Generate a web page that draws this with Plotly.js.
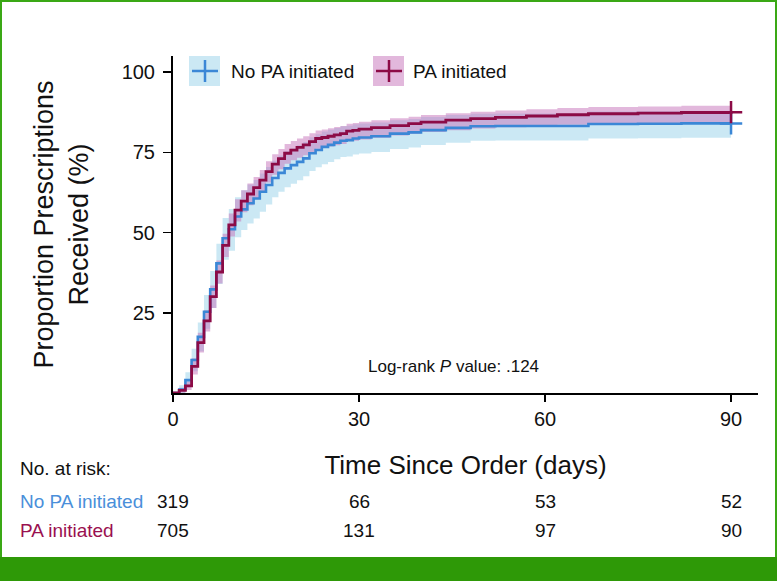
<!DOCTYPE html>
<html><head><meta charset="utf-8">
<script src="https://cdn.plot.ly/plotly-3.0.1.min.js"></script>
<style>
html,body{margin:0;padding:0;background:#fff;}
#wrap{position:relative;width:777px;height:581px;overflow:hidden;}
#chart{width:777px;height:581px;}
.g{position:absolute;background:#3aa815;pointer-events:none;}
</style></head><body>
<div id="wrap"><div id="chart"></div>
<div class="g" style="left:0;top:0;width:777px;height:2px"></div>
<div class="g" style="left:0;top:0;width:2px;height:581px"></div>
<div class="g" style="right:0;top:0;width:2px;height:581px"></div>
<div class="g" style="left:0;top:557px;width:777px;height:24px;background:#2e9907"></div>
</div>
<script>
// ---- data ----
var days = [0,1,2,3,4,5,6,7,8,9,10,11,12,13,14,15,16,17,18,19,20,21,22,23,24,25,26,27,28,29,30,32,35,38,40,44,48,52,57,62,67,75,82,90];

var paEst   = [0,0.8,2.2,8.3,15.7,22.5,30,37.7,46,52.4,57,59.8,62,64,66.3,69,71.3,73,74.7,75.7,76.5,77.3,78.3,79.3,79.6,80,80.4,80.8,81.6,81.8,82.2,82.7,83.3,83.9,84.4,85,85.5,85.9,86.3,86.7,87,87.2,87.4,87.5];
var paLow   = [0,0.1,0.9,5.8,12.6,19.2,26.5,34.1,42.4,48.8,53.4,56.3,58.5,60.6,62.9,65.6,68,69.7,71.4,72.5,73.3,74.1,75.1,76.1,76.4,76.8,77.2,77.6,78.4,78.6,79,79.5,80.2,80.8,81.3,81.9,82.4,82.8,83.2,83.6,83.9,84.1,84.3,84.4];
var paHigh  = [0,1.6,3.6,10.8,18.8,25.8,33.5,41.3,49.6,55.9,60.4,63.2,65.3,67.3,69.5,72.2,74.4,76,77.6,78.5,79.3,80,80.9,81.8,82.1,82.5,82.9,83.2,83.9,84.1,84.5,85,85.6,86.1,86.6,87.2,87.6,88,88.4,88.8,89.1,89.3,89.5,89.6];

var noEst   = [0,1.1,4,10.3,17.5,25.3,32.3,40.4,48.2,51,55,57.2,59.1,60.6,62.7,64.8,67,68.6,70,71,72,73.1,74.7,75.7,76.7,77.3,78,78.6,78.8,79.3,79.6,80,80.8,81.2,81.9,82.6,83.1,83.2,83.2,83.2,83.8,83.9,84,84];
var noLow   = [0,0,1.8,6.8,13,20,26.5,34,41.5,44.3,48.5,50.8,52.8,54.4,56.5,58.7,61,62.7,64.1,65.2,66.3,67.5,69.2,70.3,71.3,72,72.8,73.5,73.7,74.3,74.6,75.1,76,76.5,77.3,78,78.6,78.7,78.7,78.7,79.3,79.4,79.5,79.5];
var noHigh  = [0,2.4,6.5,13.8,22,30.5,38,46.5,54.5,57.3,61,63.2,65,66.4,68.4,70.4,72.4,74,75.3,76.2,77.2,78.2,79.7,80.6,81.5,82,82.6,83.1,83.3,83.7,84,84.3,85,85.4,86,86.6,87,87.1,87.1,87.1,87.7,87.8,87.9,87.9];

var groupNames = ['No PA initiated','PA initiated'];
var riskTimes  = [0,30,60,90];
var riskNoPA   = [319,66,53,52];
var riskPA     = [705,131,97,90];
var xTicks = [0,30,60,90];
var yTicks = [25,50,75,100];

// ---- styles ----
var BLUE = '#3b87d6', RED = '#8c0b46';
var BLUE_FILL = 'rgba(140,205,230,0.45)', RED_FILL = 'rgba(197,113,185,0.5)';
var FONT = 'Liberation Sans, Arial, sans-serif';

var last = days.length - 1;
var traces = [
  {x: days, y: noLow, mode:'lines', line:{width:0, shape:'hv'}, showlegend:false, hoverinfo:'skip'},
  {x: days, y: noHigh, mode:'lines', line:{width:0, shape:'hv'}, fill:'tonexty', fillcolor:BLUE_FILL, showlegend:false, hoverinfo:'skip'},
  {x: days, y: paLow, mode:'lines', line:{width:0, shape:'hv'}, showlegend:false, hoverinfo:'skip'},
  {x: days, y: paHigh, mode:'lines', line:{width:0, shape:'hv'}, fill:'tonexty', fillcolor:RED_FILL, showlegend:false, hoverinfo:'skip'},
  {x: days, y: noEst, name: groupNames[0], mode:'lines', line:{color:BLUE, width:2.6, shape:'hv'}, showlegend:false},
  {x: days, y: paEst, name: groupNames[1], mode:'lines', line:{color:RED, width:2.8, shape:'hv'}, showlegend:false},
  {x: [days[last]], y: [noEst[last]], mode:'markers', marker:{symbol:'cross-thin-open', size:16, color:BLUE, line:{color:BLUE, width:2.5}}, showlegend:false},
  {x: [days[last]], y: [paEst[last]], mode:'markers', marker:{symbol:'cross-thin-open', size:16, color:RED, line:{color:RED, width:2.5}}, showlegend:false}
];

// plot area in px: left 173, width 585, top 56, height 337
function px(xp){ return (xp-173)/585; }
function py(yp){ return (393-yp)/337; }

var shapes = [
  {type:'rect', xref:'paper', yref:'paper', x0:px(189), x1:px(220), y0:py(86), y1:py(56), fillcolor:'rgba(140,205,230,0.45)', line:{width:0}},
  {type:'line', xref:'paper', yref:'paper', x0:px(192), x1:px(218), y0:py(71), y1:py(71), line:{color:BLUE, width:2.5}},
  {type:'line', xref:'paper', yref:'paper', x0:px(205), x1:px(205), y0:py(60), y1:py(82), line:{color:BLUE, width:2.5}},
  {type:'rect', xref:'paper', yref:'paper', x0:px(373), x1:px(404), y0:py(86), y1:py(56), fillcolor:RED_FILL, line:{width:0}},
  {type:'line', xref:'paper', yref:'paper', x0:px(376), x1:px(402), y0:py(71), y1:py(71), line:{color:RED, width:2.5}},
  {type:'line', xref:'paper', yref:'paper', x0:px(389), x1:px(389), y0:py(60), y1:py(82), line:{color:RED, width:2.5}}
];

var annotations = [
  {xref:'paper', yref:'paper', x:px(229), y:py(71), xanchor:'left', yanchor:'middle', text:groupNames[0], showarrow:false, font:{family:FONT, size:19, color:'#111'}},
  {xref:'paper', yref:'paper', x:px(411), y:py(71), xanchor:'left', yanchor:'middle', text:groupNames[1], showarrow:false, font:{family:FONT, size:19, color:'#111'}},
  {xref:'paper', yref:'paper', x:px(453), y:py(366), xanchor:'center', yanchor:'middle', text:'Log-rank <i>P</i> value: .124', showarrow:false, font:{family:FONT, size:17, color:'#111'}},
  {xref:'paper', yref:'paper', x:px(18), y:py(468), xanchor:'left', yanchor:'middle', text:'No. at risk:', showarrow:false, font:{family:FONT, size:19, color:'#111'}},
  {xref:'paper', yref:'paper', x:px(18), y:py(501), xanchor:'left', yanchor:'middle', text:groupNames[0], showarrow:false, font:{family:FONT, size:19, color:'#4a8fda'}},
  {xref:'paper', yref:'paper', x:px(18), y:py(530), xanchor:'left', yanchor:'middle', text:groupNames[1], showarrow:false, font:{family:FONT, size:19, color:'#9a1050'}}
];
riskTimes.forEach(function(t,i){
  annotations.push({xref:'x', yref:'paper', x:t, y:py(501), xanchor:'center', yanchor:'middle', text:String(riskNoPA[i]), showarrow:false, font:{family:FONT, size:19, color:'#111'}});
  annotations.push({xref:'x', yref:'paper', x:t, y:py(530), xanchor:'center', yanchor:'middle', text:String(riskPA[i]), showarrow:false, font:{family:FONT, size:19, color:'#111'}});
});

var layout = {
  width:777, height:581,
  margin:{l:173, r:19, t:56, b:188},
  paper_bgcolor:'#fff', plot_bgcolor:'#fff',
  showlegend:false,
  font:{family:FONT, color:'#111'},
  xaxis:{
    range:[0,94.35], showgrid:false, zeroline:false,
    showline:true, linecolor:'#000', linewidth:2,
    ticks:'outside', ticklen:7, tickwidth:1.5, tickcolor:'#000',
    tickvals:xTicks, ticktext:xTicks.map(String),
    tickfont:{family:FONT, size:20, color:'#111'},
    title:{text:'Time Since Order (days)', font:{family:FONT, size:26, color:'#111'}, standoff:27},
    automargin:false
  },
  yaxis:{
    range:[0,105], showgrid:false, zeroline:false,
    showline:true, linecolor:'#000', linewidth:2,
    ticks:'outside', ticklen:8, tickwidth:1.5, tickcolor:'#000',
    tickvals:yTicks, ticktext:yTicks.map(String),
    tickfont:{family:FONT, size:20, color:'#111'},
    ticklabelstandoff:4,
    title:{text:'Proportion Prescriptions<br>Received (%)', font:{family:FONT, size:27, color:'#111'}, standoff:25},
    automargin:false
  },
  shapes:shapes,
  annotations:annotations
};

Plotly.newPlot('chart', traces, layout, {displayModeBar:false, staticPlot:true});
</script>
</body></html>
